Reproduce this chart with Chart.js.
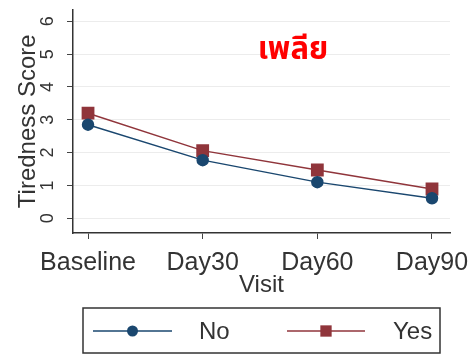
<!DOCTYPE html>
<html>
<head>
<meta charset="utf-8">
<script src="https://cdn.jsdelivr.net/npm/chart.js@4/dist/chart.umd.min.js"></script>
<style>
	html, body { margin: 0; padding: 0; background: #fff; }
	#wrap { width: 472px; height: 355px; position: relative; }
</style>
</head>
<body>
<div id="wrap"><canvas id="myChart"></canvas></div>
<script>
const visits = ["Baseline", "Day30", "Day60", "Day90"];
const noScores = [2.85, 1.77, 1.1, 0.61];
const yesScores = [3.2, 2.06, 1.47, 0.89];
const seriesNames = ["No", "Yes"];
const yTicks = [0, 1, 2, 3, 4, 5, 6];
const noteText = "เพลีย";

const FONT = "'Liberation Sans', Arial, sans-serif";
const NAVY = "#1a476f";
const MAROON = "#90353b";

window.addEventListener(
	"load",
	function () {
		// y tick labels are rotated like Stata draws them
		const rotatedTicks = {
			id: "rotatedTicks",
			afterDraw(chart) {
				const ctx = chart.ctx;
				const y = chart.scales.y;
				ctx.save();
				ctx.fillStyle = "#333";
				ctx.font = "18px " + FONT;
				ctx.textAlign = "center";
				ctx.textBaseline = "middle";
				yTicks.forEach(function (t) {
					ctx.save();
					ctx.translate(48, y.getPixelForValue(t));
					ctx.rotate(-Math.PI / 2);
					ctx.fillText(String(t), 0, 0);
					ctx.restore();
				});
				ctx.restore();
			},
		};

		const note = {
			id: "note",
			afterDraw(chart) {
				const ctx = chart.ctx;
				ctx.save();
				ctx.fillStyle = "#ff0000";
				ctx.font = "bold 31px 'Noto Sans Thai', 'DejaVu Sans', sans-serif";
				ctx.textAlign = "center";
				ctx.textBaseline = "middle";
				ctx.fillText(noteText, 293, 53);
				ctx.restore();
			},
		};

		// legend with line + marker keys inside a frame
		const boxLegend = {
			id: "boxLegend",
			afterDraw(chart) {
				const ctx = chart.ctx;
				ctx.save();
				ctx.strokeStyle = "#333";
				ctx.lineWidth = 1.5;
				ctx.strokeRect(83, 308, 357, 45);
				const keys = [
					{ x0: 93, x1: 172, label: 199 },
					{ x0: 287, x1: 365, label: 393 },
				];
				const cy = 331;
				chart.data.datasets.forEach(function (ds, i) {
					const k = keys[i];
					ctx.strokeStyle = ds.borderColor;
					ctx.lineWidth = 1.5;
					ctx.beginPath();
					ctx.moveTo(k.x0, cy);
					ctx.lineTo(k.x1, cy);
					ctx.stroke();
					ctx.fillStyle = ds.pointBackgroundColor;
					Chart.helpers.drawPoint(ctx, { pointStyle: ds.pointStyle, radius: ds.pointRadius, borderWidth: 0 }, (k.x0 + k.x1) / 2, cy);
					ctx.fillStyle = "#333";
					ctx.font = "24px " + FONT;
					ctx.textAlign = "left";
					ctx.textBaseline = "middle";
					ctx.fillText(ds.label, k.label, cy + 1);
				});
				ctx.restore();
			},
		};

		const data = {
			datasets: [
				{
					label: seriesNames[0],
					data: noScores.map(function (v, i) { return { x: i, y: v }; }),
					borderColor: NAVY,
					backgroundColor: NAVY,
					pointBackgroundColor: NAVY,
					pointBorderColor: NAVY,
					pointStyle: "circle",
					pointRadius: 5.5,
					borderWidth: 1.5,
				},
				{
					label: seriesNames[1],
					data: yesScores.map(function (v, i) { return { x: i, y: v }; }),
					borderColor: MAROON,
					backgroundColor: MAROON,
					pointBackgroundColor: MAROON,
					pointBorderColor: MAROON,
					pointStyle: "rect",
					pointRadius: 8,
					borderWidth: 1.5,
				},
			],
		};

		const config = {
			type: "line",
			data: data,
			plugins: [rotatedTicks, note, boxLegend],
			options: {
				responsive: true,
				maintainAspectRatio: false,
				animation: false,
				layout: {
					padding: { top: 8, right: 22, bottom: 58, left: 0 },
				},
				plugins: {
					legend: { display: false },
					tooltip: { enabled: false },
				},
				scales: {
					x: {
						type: "linear",
						min: -0.131,
						max: 3.157,
						afterFit: function (s) {
							s.height = 355 - 58 - 233;
							s.paddingLeft = 0;
							s.paddingRight = 0;
						},
						ticks: {
							stepSize: 1,
							includeBounds: false,
							color: "#333",
							padding: 12,
							font: { family: FONT, size: 25, lineHeight: 1 },
							callback: function (v) { return visits[v]; },
						},
						grid: {
							drawOnChartArea: false,
							tickColor: "#444",
							tickLength: 6,
						},
						border: { color: "#333", width: 1.5 },
						title: {
							display: true,
							text: "Visit",
							color: "#333",
							padding: { top: 0, bottom: 0 },
							font: { family: FONT, size: 24, lineHeight: 1 },
						},
					},
					y: {
						min: -0.45,
						max: 6.36,
						afterFit: function (s) {
							s.width = 73;
							s.paddingTop = 0;
							s.paddingBottom = 0;
						},
						ticks: {
							stepSize: 1,
							includeBounds: false,
							display: false,
						},
						grid: {
							color: "#ececec",
							tickColor: "#444",
							tickLength: 6,
						},
						border: { color: "#333", width: 1.5 },
						title: {
							display: true,
							text: "Tiredness Score",
							color: "#333",
							padding: { top: 14, bottom: 0 },
							font: { family: FONT, size: 24, lineHeight: 1.2 },
						},
					},
				},
				elements: {
					line: { tension: 0 },
				},
			},
		};

		//load
		const myChart = new Chart(document.getElementById("myChart"), config);
	},
	false
);
</script>
</body>
</html>
